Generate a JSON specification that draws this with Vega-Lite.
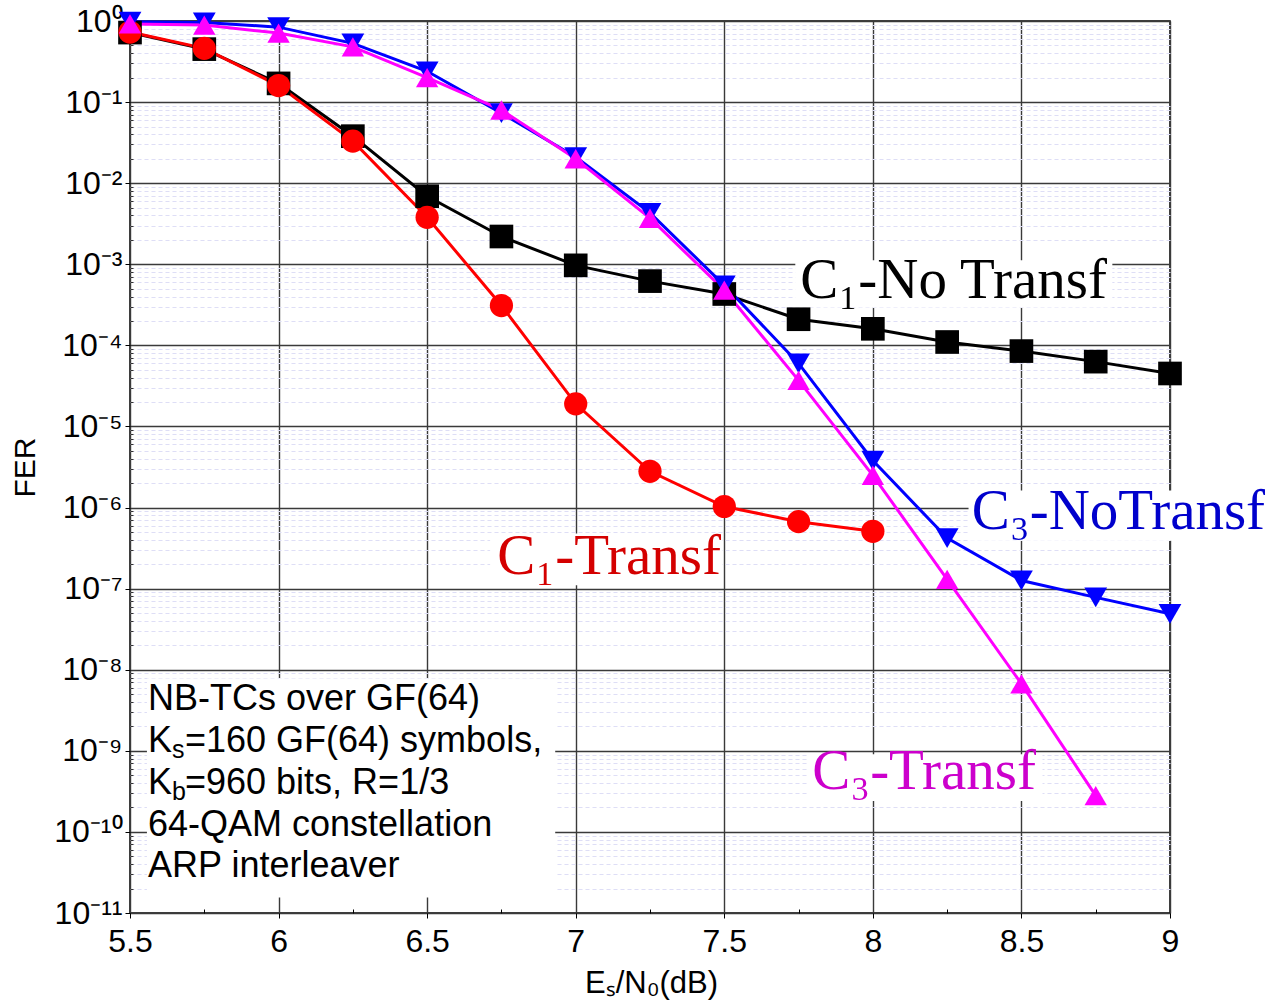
{
  "$schema": "https://vega.github.io/schema/vega-lite/v6.json",
  "width": 1040,
  "height": 892,
  "autosize": {"type": "none"},
  "padding": {"left": 130, "top": 21, "right": 106, "bottom": 88},
  "background": "white",
  "config": {"view": {"stroke": "black", "strokeWidth": 1.5}, "font": "Liberation Sans"},
  "datasets": {
    "series": [
      {"s": "C1-NoTransf", "x": 5.5, "fer": 0.72},
      {"s": "C1-NoTransf", "x": 5.75, "fer": 0.45},
      {"s": "C1-NoTransf", "x": 6.0, "fer": 0.17},
      {"s": "C1-NoTransf", "x": 6.25, "fer": 0.038},
      {"s": "C1-NoTransf", "x": 6.5, "fer": 0.0069},
      {"s": "C1-NoTransf", "x": 6.75, "fer": 0.0022},
      {"s": "C1-NoTransf", "x": 7.0, "fer": 0.00097},
      {"s": "C1-NoTransf", "x": 7.25, "fer": 0.00062},
      {"s": "C1-NoTransf", "x": 7.5, "fer": 0.00043},
      {"s": "C1-NoTransf", "x": 7.75, "fer": 0.00021},
      {"s": "C1-NoTransf", "x": 8.0, "fer": 0.00016},
      {"s": "C1-NoTransf", "x": 8.25, "fer": 0.00011},
      {"s": "C1-NoTransf", "x": 8.5, "fer": 0.000085},
      {"s": "C1-NoTransf", "x": 8.75, "fer": 0.000063},
      {"s": "C1-NoTransf", "x": 9.0, "fer": 0.000045},
      {"s": "C1-Transf", "x": 5.5, "fer": 0.73},
      {"s": "C1-Transf", "x": 5.75, "fer": 0.46},
      {"s": "C1-Transf", "x": 6.0, "fer": 0.16},
      {"s": "C1-Transf", "x": 6.25, "fer": 0.033},
      {"s": "C1-Transf", "x": 6.5, "fer": 0.0038},
      {"s": "C1-Transf", "x": 6.75, "fer": 0.00031},
      {"s": "C1-Transf", "x": 7.0, "fer": 0.000019},
      {"s": "C1-Transf", "x": 7.25, "fer": 0.0000028},
      {"s": "C1-Transf", "x": 7.5, "fer": 0.00000103},
      {"s": "C1-Transf", "x": 7.75, "fer": 0.00000067},
      {"s": "C1-Transf", "x": 8.0, "fer": 0.00000051},
      {"s": "C3-NoTransf", "x": 5.5, "fer": 0.98},
      {"s": "C3-NoTransf", "x": 5.75, "fer": 0.96},
      {"s": "C3-NoTransf", "x": 6.0, "fer": 0.84},
      {"s": "C3-NoTransf", "x": 6.25, "fer": 0.53},
      {"s": "C3-NoTransf", "x": 6.5, "fer": 0.24},
      {"s": "C3-NoTransf", "x": 6.75, "fer": 0.073},
      {"s": "C3-NoTransf", "x": 7.0, "fer": 0.021},
      {"s": "C3-NoTransf", "x": 7.25, "fer": 0.0043},
      {"s": "C3-NoTransf", "x": 7.5, "fer": 0.00055},
      {"s": "C3-NoTransf", "x": 7.75, "fer": 0.00006},
      {"s": "C3-NoTransf", "x": 8.0, "fer": 0.0000038},
      {"s": "C3-NoTransf", "x": 8.25, "fer": 0.00000042},
      {"s": "C3-NoTransf", "x": 8.5, "fer": 0.000000126},
      {"s": "C3-NoTransf", "x": 8.75, "fer": 0.000000078},
      {"s": "C3-NoTransf", "x": 9.0, "fer": 0.000000049},
      {"s": "C3-Transf", "x": 5.5, "fer": 0.92},
      {"s": "C3-Transf", "x": 5.75, "fer": 0.89},
      {"s": "C3-Transf", "x": 6.0, "fer": 0.71},
      {"s": "C3-Transf", "x": 6.25, "fer": 0.48},
      {"s": "C3-Transf", "x": 6.5, "fer": 0.2},
      {"s": "C3-Transf", "x": 6.75, "fer": 0.08},
      {"s": "C3-Transf", "x": 7.0, "fer": 0.02},
      {"s": "C3-Transf", "x": 7.25, "fer": 0.0037},
      {"s": "C3-Transf", "x": 7.5, "fer": 0.00048},
      {"s": "C3-Transf", "x": 7.75, "fer": 0.000037},
      {"s": "C3-Transf", "x": 8.0, "fer": 0.0000025},
      {"s": "C3-Transf", "x": 8.25, "fer": 0.00000013},
      {"s": "C3-Transf", "x": 8.5, "fer": 0.0000000067},
      {"s": "C3-Transf", "x": 8.75, "fer": 0.00000000028}
    ],
    "notes": [
      {"s": "C1-NoTransf", "text": "C₁-No Transf", "x": 7.756, "fer": 3.8e-4},
      {"s": "C1-Transf", "text": "C₁-Transf", "x": 6.736, "fer": 1.53e-7},
      {"s": "C3-NoTransf", "text": "C₃-NoTransf", "x": 8.333, "fer": 5.5e-7},
      {"s": "C3-Transf", "text": "C₃-Transf", "x": 7.796, "fer": 3.4e-10}
    ],
    "boxes": [
      {"x": 7.739, "x2": 8.806, "fer": 1.12e-3, "fer2": 2.94e-4},
      {"x": 6.712, "x2": 7.493, "fer": 4.8e-7, "fer2": 1.1e-7},
      {"x": 8.322, "x2": 9.332, "fer": 1.62e-6, "fer2": 3.9e-7},
      {"x": 7.783, "x2": 8.571, "fer": 9.1e-10, "fer2": 2.4e-10},
      {"x": 5.557, "x2": 6.931, "fer": 7.8e-9, "fer2": 1.55e-11}
    ],
    "legendMain": [
      {"text": "NB-TCs over GF(64)", "x": 5.5606, "fer": 3.2e-9},
      {"text": "K", "x": 5.5606, "fer": 9.7e-10},
      {"text": "K", "x": 5.5606, "fer": 2.94e-10},
      {"text": "64-QAM constellation", "x": 5.5606, "fer": 8.9e-11},
      {"text": "ARP interleaver", "x": 5.5606, "fer": 2.78e-11}
    ],
    "legendSub": [
      {"text": "s", "x": 5.5606, "fer": 9.7e-10},
      {"text": "b", "x": 5.5606, "fer": 2.94e-10}
    ],
    "legendTail": [
      {"text": "=160 GF(64) symbols,", "x": 5.5606, "fer": 9.7e-10},
      {"text": "=960 bits, R=1/3", "x": 5.5606, "fer": 2.94e-10}
    ]
  },
  "layer": [
    {
      "data": {"name": "boxes"},
      "mark": {"type": "rect", "fill": "white", "stroke": null},
      "encoding": {
        "x": {"field": "x", "type": "quantitative", "scale": {"domain": [5.5, 9], "nice": false, "zero": false},
          "axis": {"orient": "bottom", "values": [5.75, 6.25, 6.75, 7.25, 7.75, 8.25, 8.75], "labels": false, "grid": false, "domain": false, "ticks": true, "tickSize": -4, "tickColor": "black", "tickWidth": 1, "title": null}},
        "x2": {"field": "x2"},
        "y": {"field": "fer", "type": "quantitative", "scale": {"type": "log", "domain": [1e-11, 1], "nice": false},
          "axis": {"values": [9e-1,8e-1,7e-1,6e-1,5e-1,4e-1,3e-1,2e-1,9e-2,8e-2,7e-2,6e-2,5e-2,4e-2,3e-2,2e-2,9e-3,8e-3,7e-3,6e-3,5e-3,4e-3,3e-3,2e-3,9e-4,8e-4,7e-4,6e-4,5e-4,4e-4,3e-4,2e-4,9e-5,8e-5,7e-5,6e-5,5e-5,4e-5,3e-5,2e-5,9e-6,8e-6,7e-6,6e-6,5e-6,4e-6,3e-6,2e-6,9e-7,8e-7,7e-7,6e-7,5e-7,4e-7,3e-7,2e-7,9e-8,8e-8,7e-8,6e-8,5e-8,4e-8,3e-8,2e-8,9e-9,8e-9,7e-9,6e-9,5e-9,4e-9,3e-9,2e-9,9e-10,8e-10,7e-10,6e-10,5e-10,4e-10,3e-10,2e-10,9e-11,8e-11,7e-11,6e-11,5e-11,4e-11,3e-11,2e-11],
            "orient": "left", "labels": false, "domain": false, "ticks": true, "tickSize": -3, "tickColor": "#333333", "grid": true, "gridColor": "#dedef6", "gridDash": [4, 3], "gridWidth": 1.2, "title": null}},
        "y2": {"field": "fer2"}
      }
    },
    {
      "data": {"name": "series"},
      "mark": {"type": "line", "strokeWidth": 3},
      "encoding": {
        "x": {"field": "x", "type": "quantitative", "scale": {"domain": [5.5, 9], "nice": false, "zero": false},
          "axis": {"orient": "bottom", "values": [5.5, 6, 6.5, 7, 7.5, 8, 8.5, 9], "format": "~g", "grid": true, "gridColor": "#3a3a3a", "gridWidth": 1.4, "domain": false, "tickSize": 5, "tickColor": "black", "labelFontSize": 32, "labelColor": "black", "labelFont": "Liberation Sans", "labelPadding": 8, "labelFlush": false,
            "title": "Eₛ/N₀(dB)", "titleFont": "Liberation Sans", "titleFontSize": 31, "titleFontWeight": "normal", "titleColor": "black", "titleX": 521, "titleY": 70, "titleBaseline": "middle", "titleAlign": "center"}},
        "y": {"field": "fer", "type": "quantitative", "scale": {"type": "log", "domain": [1e-11, 1], "nice": false},
          "axis": {"values": [1, 1e-1, 1e-2, 1e-3, 1e-4, 1e-5, 1e-6, 1e-7, 1e-8, 1e-9, 1e-10, 1e-11], "orient": "left",
            "labelExpr": "'10' + ['⁰','⁻¹','⁻²','⁻³','⁻⁴','⁻⁵','⁻⁶','⁻⁷','⁻⁸','⁻⁹','⁻¹⁰','⁻¹¹'][round(-log(datum.value)/LN10)]",
            "grid": true, "gridColor": "#3a3a3a", "gridWidth": 1.4, "domain": false, "tickSize": 5, "tickColor": "black", "labelFontSize": 32, "labelColor": "black", "labelFont": "Liberation Sans", "labelPadding": 3, "labelFlush": false,
            "title": "FER", "titleFont": "Liberation Sans", "titleFontSize": 30, "titleFontWeight": "normal", "titleColor": "black", "titleX": -105, "titleY": 446, "titleBaseline": "middle", "titleAlign": "center", "titleAngle": -90}},
        "color": {"field": "s", "type": "nominal", "scale": {"domain": ["C1-NoTransf", "C1-Transf", "C3-NoTransf", "C3-Transf"], "range": ["#000000", "#ff0000", "#0000ff", "#ff00ff"]}, "legend": null}
      }
    },
    {
      "data": {"name": "series"},
      "mark": {"type": "point", "filled": true, "opacity": 1},
      "encoding": {
        "x": {"field": "x", "type": "quantitative", "scale": {"domain": [5.5, 9], "nice": false, "zero": false}, "axis": null},
        "y": {"field": "fer", "type": "quantitative", "scale": {"type": "log", "domain": [1e-11, 1], "nice": false}, "axis": null},
        "color": {"field": "s", "type": "nominal", "scale": {"domain": ["C1-NoTransf", "C1-Transf", "C3-NoTransf", "C3-Transf"], "range": ["#000000", "#ff0000", "#0000ff", "#ff00ff"]}, "legend": null},
        "shape": {"field": "s", "type": "nominal", "scale": {"domain": ["C1-NoTransf", "C1-Transf", "C3-NoTransf", "C3-Transf"], "range": ["square", "circle", "triangle-down", "triangle-up"]}, "legend": null},
        "size": {"field": "s", "type": "nominal", "scale": {"domain": ["C1-NoTransf", "C1-Transf", "C3-NoTransf", "C3-Transf"], "range": [560, 500, 720, 720]}, "legend": null}
      }
    },
    {
      "data": {"name": "notes"},
      "mark": {"type": "text", "font": "Liberation Serif", "fontSize": 57, "align": "left", "baseline": "alphabetic"},
      "encoding": {
        "x": {"field": "x", "type": "quantitative", "scale": {"domain": [5.5, 9], "nice": false, "zero": false}, "axis": null},
        "y": {"field": "fer", "type": "quantitative", "scale": {"type": "log", "domain": [1e-11, 1], "nice": false}, "axis": null},
        "text": {"field": "text"},
        "fill": {"field": "s", "type": "nominal", "scale": {"domain": ["C1-NoTransf", "C1-Transf", "C3-NoTransf", "C3-Transf"], "range": ["#000000", "#d40000", "#0000cc", "#cc00cc"]}, "legend": null}
      }
    },
    {
      "data": {"name": "legendMain"},
      "mark": {"type": "text", "font": "Liberation Sans", "fontSize": 36, "align": "left", "baseline": "alphabetic", "color": "black"},
      "encoding": {
        "x": {"field": "x", "type": "quantitative", "scale": {"domain": [5.5, 9], "nice": false, "zero": false}, "axis": null},
        "y": {"field": "fer", "type": "quantitative", "scale": {"type": "log", "domain": [1e-11, 1], "nice": false}, "axis": null},
        "text": {"field": "text"}
      }
    },
    {
      "data": {"name": "legendSub"},
      "mark": {"type": "text", "font": "Liberation Sans", "fontSize": 25, "align": "left", "baseline": "alphabetic", "color": "black", "dx": 24, "dy": 6},
      "encoding": {
        "x": {"field": "x", "type": "quantitative", "scale": {"domain": [5.5, 9], "nice": false, "zero": false}, "axis": null},
        "y": {"field": "fer", "type": "quantitative", "scale": {"type": "log", "domain": [1e-11, 1], "nice": false}, "axis": null},
        "text": {"field": "text"}
      }
    },
    {
      "data": {"name": "legendTail"},
      "mark": {"type": "text", "font": "Liberation Sans", "fontSize": 36, "align": "left", "baseline": "alphabetic", "color": "black", "dx": 37},
      "encoding": {
        "x": {"field": "x", "type": "quantitative", "scale": {"domain": [5.5, 9], "nice": false, "zero": false}, "axis": null},
        "y": {"field": "fer", "type": "quantitative", "scale": {"type": "log", "domain": [1e-11, 1], "nice": false}, "axis": null},
        "text": {"field": "text"}
      }
    }
  ],
  "resolve": {"axis": {"x": "independent", "y": "independent"}}
}
